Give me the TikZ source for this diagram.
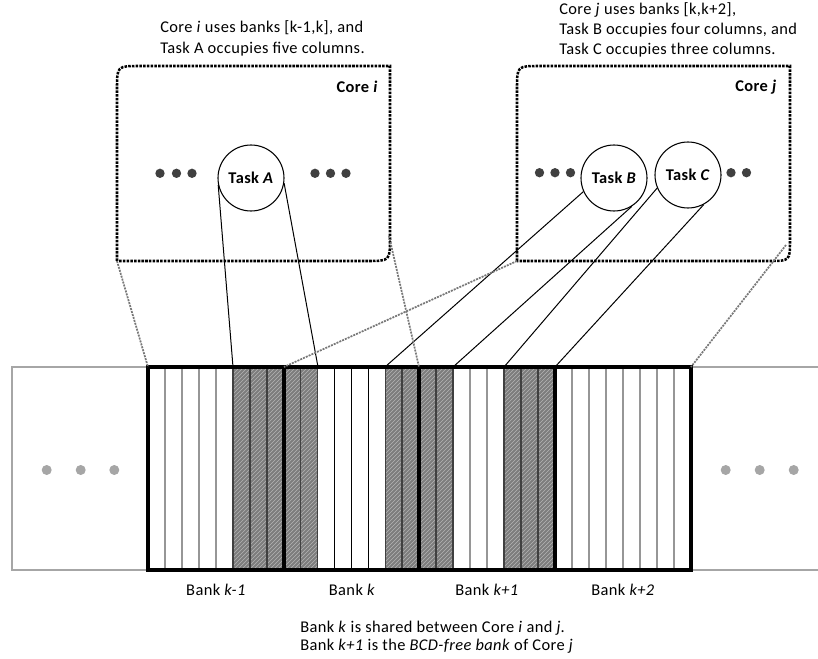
\documentclass[tikz,border=0pt]{standalone}
\usepackage{fontspec}
\setmainfont{Carlito}[LetterSpace=2.5]
\usetikzlibrary{patterns}

\definecolor{framegray}{RGB}{166,166,166}
\definecolor{shadefill}{RGB}{125,125,125}
\definecolor{shadeline}{RGB}{180,180,180}
\definecolor{divgray}{RGB}{150,150,150}
\definecolor{linkgray}{RGB}{120,120,120}

\tikzset{
  txt/.style={font=\fontsize{12.3}{15}\selectfont, inner sep=0pt},
  corebox/.style={line width=1.9pt, dash pattern=on 1.9pt off 0.9pt},
  corelabel/.style={font=\fontsize{12.3}{15}\selectfont\bfseries, inner sep=0pt},
  tasknode/.style={circle, draw, line width=0.8pt, fill=white, minimum size=49.5pt,
                   inner sep=0pt, font=\fontsize{12.3}{15}\selectfont\bfseries},
  bankbox/.style={line width=2.4pt},
  framebox/.style={draw=framegray, line width=2.2pt},
  shadedcol/.style={fill=shadefill, postaction={pattern=north east lines, pattern color=shadeline}},
  divlight/.style={draw=divgray, line width=0.9pt},
  divdark/.style={draw=black!75, line width=0.8pt},
  divblack/.style={draw=black, line width=0.8pt},
  tasklink/.style={line width=0.75pt},
  zoomlink/.style={draw=linkgray, line width=1.3pt, dash pattern=on 1.5pt off 0.8pt},
  bigdot/.style={circle, fill=black!75, inner sep=0pt, minimum size=7pt},
  greydot/.style={circle, fill=framegray, inner sep=0pt, minimum size=7.5pt},
}

\begin{document}
\begin{tikzpicture}[x=0.75pt, y=-0.75pt]
\useasboundingbox (0,0) rectangle (818,659);

% ---- memory strip: outer grey frame -------------------------------------
\draw[framebox] (148,367) -- (12,367) -- (12,570) -- (148,570);
\draw[framebox] (691,367) -- (818,367);
\draw[framebox] (691,570) -- (818,570);
\node[greydot] (gl1) at (46.7,470) {};
\node[greydot] (gl2) at (80.7,470) {};
\node[greydot] (gl3) at (114.3,470) {};
\node[greydot] (gr1) at (725.7,470) {};
\node[greydot] (gr2) at (759.7,470) {};
\node[greydot] (gr3) at (793.7,470) {};

% ---- occupied columns -----------------------------------------------------
\path[shadedcol] (233,367) rectangle (284,570);
\path[shadedcol] (284,367) rectangle (317.75,570);
\path[shadedcol] (385.1,367) rectangle (419,570);
\path[shadedcol] (419,367) rectangle (453,570);
\path[shadedcol] (504,367) rectangle (555,570);

% ---- column dividers ------------------------------------------------------
\foreach \x in {165,182,199,216,470,487,572,589,606,623,640,657,674}
  \draw[divlight] (\x,367) -- (\x,570);
\foreach \x in {233,250,267,300.9,317.75,385.1,402,436,453,504,521,538}
  \draw[divdark] (\x,367) -- (\x,570);
\foreach \x in {334.6,351.5,368.4}
  \draw[divblack] (\x,367) -- (\x,570);

% ---- banks ----------------------------------------------------------------
\draw[bankbox] (148,367) rectangle (284,570);
\draw[bankbox] (284,367) rectangle (419,570);
\draw[bankbox] (419,367) rectangle (555,570);
\draw[bankbox] (555,367) rectangle (691,570);

\coordinate (bkmL) at (148,367);
\coordinate (bkL)  at (284,367);
\coordinate (bkR)  at (419,367);
\coordinate (bkpR) at (691,367);

\node[txt] (lb1) at (216,590) {Bank \textit{k-1}};
\node[txt] (lb2) at (352,590) {Bank \textit{k}};
\node[txt] (lb3) at (487,590) {Bank \textit{k+1}};
\node[txt] (lb4) at (623,590) {Bank \textit{k+2}};

\node[txt, anchor=west, align=left] (note) at (300,637)
  {Bank \textit{k} is shared between Core \textit{i} and \textit{j}.\\[-1.5pt]
   Bank \textit{k+1} is the \textit{BCD-free bank} of Core \textit{j}};

% ---- Core i -----------------------------------------------------------------
\draw[corebox] (117,261) -- (117,89) .. controls (117,66) .. (140,66)
  -- (390,66) -- (390,238) .. controls (390,261) .. (367,261) -- cycle;
\coordinate (ciBL) at (117,261);
\coordinate (ciBR) at (389,236);
\node[corelabel, anchor=east] (cil) at (378,87) {Core \textit{i}};
\node[txt, anchor=west, align=left] (cit) at (160,38.5)
  {Core \textit{i} uses banks [k-1,k], and\\[0.5pt] Task A occupies five columns.};

\node[bigdot] (d1) at (160,173.3) {};
\node[bigdot] (d2) at (176.5,173.3) {};
\node[bigdot] (d3) at (192,173.3) {};
\node[bigdot] (d4) at (315,173.3) {};
\node[bigdot] (d5) at (330.5,173.3) {};
\node[bigdot] (d6) at (346,173.3) {};

\node[tasknode] (tA) at (251,178) {Task \textit{A}};

% ---- Core j -----------------------------------------------------------------
\draw[corebox] (517,261) -- (517,89) .. controls (517,66) .. (540,66)
  -- (790,66) -- (790,240) .. controls (790,261) .. (769,261) -- cycle;
\coordinate (cjBL) at (517,261);
\coordinate (cjBR) at (786,245);
\node[corelabel, anchor=east] (cjl) at (777,87) {Core \textit{j}};
\node[txt, anchor=west, align=left] (cjt) at (559,30)
  {Core \textit{j} uses banks [k,k+2],\\ Task B occupies four columns, and\\
   Task C occupies three columns.};

\node[bigdot] (e1) at (539.5,172.7) {};
\node[bigdot] (e2) at (555,172.7) {};
\node[bigdot] (e3) at (570.5,172.7) {};
\node[bigdot] (e4) at (731,172.7) {};
\node[bigdot] (e5) at (746.5,172.7) {};

\node[tasknode] (tB) at (614,178) {Task \textit{B}};
\node[tasknode] (tC) at (688,175) {Task \textit{C}};

% ---- task extents on the strip ---------------------------------------------
\coordinate (aL) at (233,367);
\coordinate (aR) at (318,367);
\coordinate (bL) at (385,367);
\coordinate (bR) at (453,367);
\coordinate (cL) at (504,367);
\coordinate (cR) at (555,367);

\draw[tasklink] (tA.192) -- (aL);
\draw[tasklink] (tA.351) -- (aR);
\draw[tasklink] (tB.204) -- (bL);
\draw[tasklink] (tB.302) -- (bR);
\draw[tasklink] (tC.203) -- (cL);
\draw[tasklink] (tC.298) -- (cR);

% ---- cores mapped onto their banks -----------------------------------------
\draw[zoomlink] (ciBL) -- (bkmL);
\draw[zoomlink] (ciBR) -- (bkR);
\draw[zoomlink] (cjBL) -- (bkL);
\draw[zoomlink] (cjBR) -- (bkpR);
\end{tikzpicture}
\end{document}
